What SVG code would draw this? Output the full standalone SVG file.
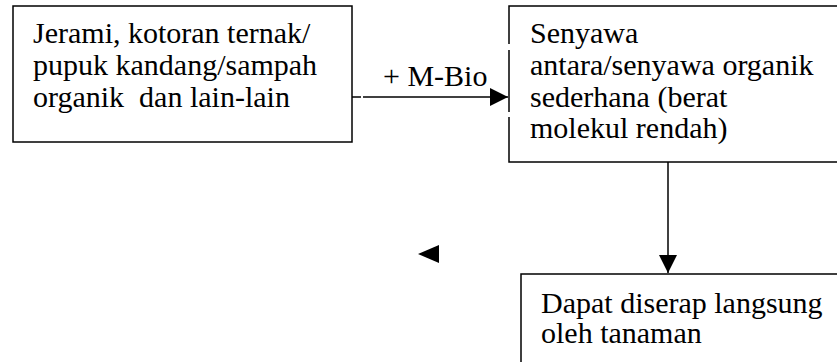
<svg xmlns="http://www.w3.org/2000/svg" width="837" height="362" viewBox="0 0 837 362">
<style>
.box{fill:#fff;stroke:#000;stroke-width:1.5}
.t{font-family:"Liberation Serif","Times New Roman",serif;font-size:30px;fill:#000;white-space:pre}
.ln{stroke:#000;stroke-width:1.5;fill:none}
.gap{fill:#fff}
</style>
<defs>
<marker id="ah" markerWidth="18" markerHeight="18" refX="18" refY="9" orient="auto" markerUnits="userSpaceOnUse">
<path d="M0,0 L18,9 L0,18 Z" fill="#000"/>
</marker>
</defs>
<rect width="837" height="362" fill="#fff"/>
<g id="node-bahan">
<rect class="box" x="13" y="6" width="339" height="136"/>
<text class="t" x="33" y="43">Jerami, kotoran ternak/</text>
<text class="t" x="33" y="75">pupuk kandang/sampah</text>
<text class="t" x="33" y="107" xml:space="preserve">organik  dan lain-lain</text>
</g>
<g id="node-senyawa">
<rect class="box" x="509" y="6" width="340" height="156"/>
<rect class="gap" x="507" y="44" width="4" height="6"/>
<rect class="gap" x="507" y="112" width="4" height="5"/>
<text class="t" x="530" y="43">Senyawa</text>
<text class="t" x="530" y="75">antara/senyawa organik</text>
<text class="t" x="530" y="107">sederhana (berat</text>
<text class="t" x="530" y="138">molekul rendah)</text>
</g>
<g id="node-serap">
<rect class="box" x="521" y="274" width="330" height="100"/>
<text class="t" x="541" y="313">Dapat diserap langsung</text>
<text class="t" x="541" y="343">oleh tanaman</text>
</g>
<g id="connectors">
<line class="ln" x1="352" y1="97" x2="508" y2="97" marker-end="url(#ah)"/>
<rect class="gap" x="361" y="95" width="2" height="4"/>
<text class="t" x="383" y="86">+ M-Bio</text>
<line class="ln" x1="668" y1="162" x2="668" y2="273" marker-end="url(#ah)"/>
<path d="M418,254 L439,245 L439,263 Z" fill="#000"/>
</g>
</svg>
